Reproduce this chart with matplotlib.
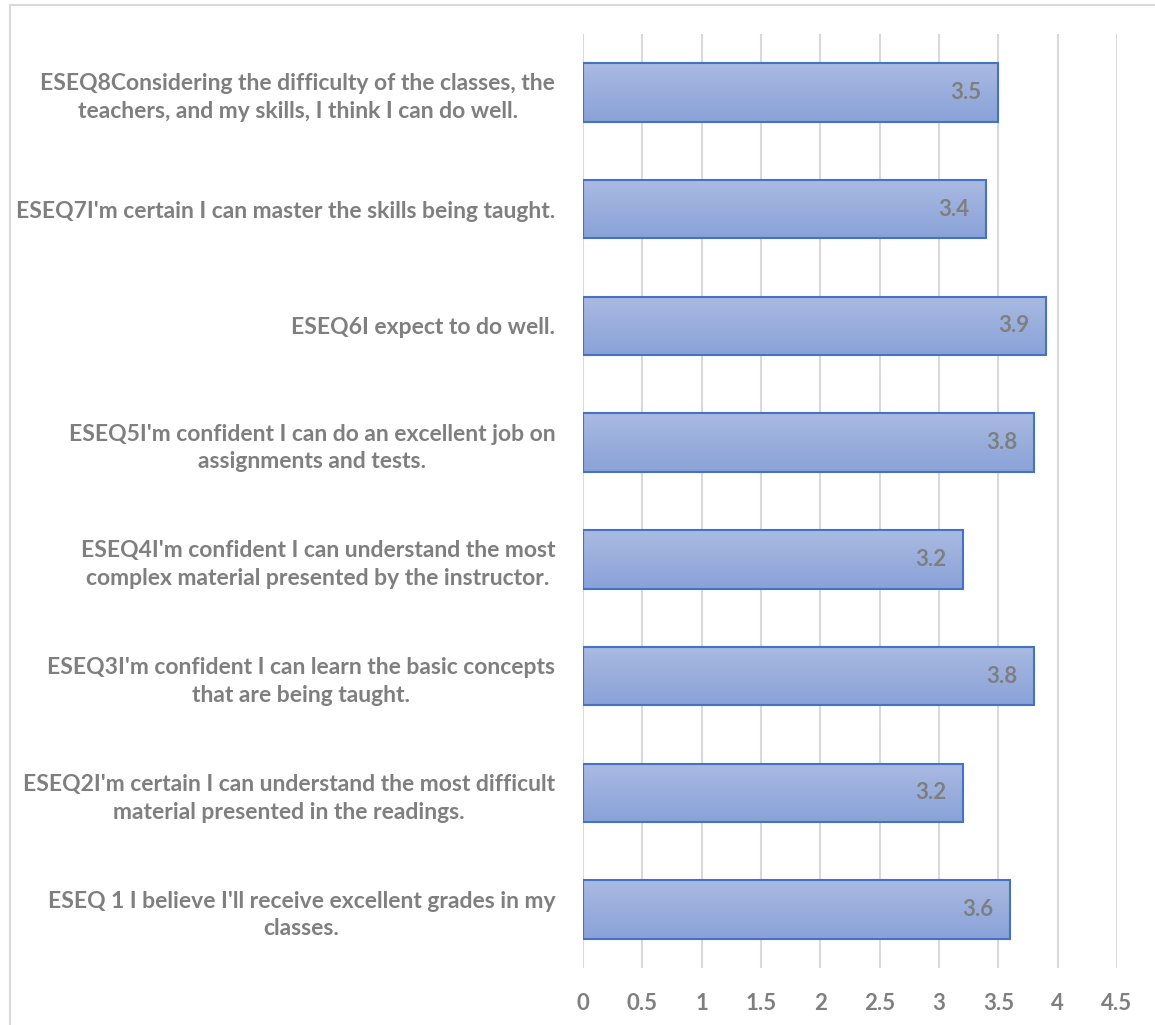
import numpy as np
import matplotlib
matplotlib.use("Agg")
import matplotlib.pyplot as plt
from matplotlib.lines import Line2D

plt.rcParams['font.family'] = ['Lato', 'DejaVu Sans']

# Survey items (bottom to top) and their mean scores
items = [
    "ESEQ 1 I believe I'll receive excellent grades in my\nclasses.",
    "ESEQ2I'm certain I can understand the most difficult\nmaterial presented in the readings.",
    "ESEQ3I'm confident I can learn the basic concepts\nthat are being taught.",
    "ESEQ4I'm confident I can understand the most\ncomplex material presented by the instructor.",
    "ESEQ5I'm confident I can do an excellent job on\nassignments and tests.",
    "ESEQ6I expect to do well.",
    "ESEQ7I'm certain I can master the skills being taught.",
    "ESEQ8Considering the difficulty of the classes, the\nteachers, and my skills, I think I can do well.",
]
scores = [3.6, 3.2, 3.8, 3.2, 3.8, 3.9, 3.4, 3.5]
xticks = [0, 0.5, 1, 1.5, 2, 2.5, 3, 3.5, 4, 4.5]
xtick_labels = ["0", "0.5", "1", "1.5", "2", "2.5", "3", "3.5", "4", "4.5"]

W, H = 1155, 1025
fig = plt.figure(figsize=(W / 100, H / 100), dpi=100)
ax = fig.add_axes([583 / W, 1 - 968 / H, (1117 - 583) / W, (968 - 34) / H])

text_gray = "#7F7F7F"
grid_gray = "#D9D9D9"
edge_blue = "#4472C4"

y = np.arange(len(items))
bars = ax.barh(y, scores, height=0.5, color="none", edgecolor=edge_blue,
               linewidth=1.5, zorder=3)

# vertical gradient fill inside each bar: lighter on top, deeper at the bottom
grad = np.linspace(0, 1, 256).reshape(-1, 1)
top_c = np.array([0xAA, 0xBA, 0xE2]) / 255
bot_c = np.array([0x89, 0xA2, 0xD8]) / 255
img = (top_c[None, None, :] * (1 - grad[..., None]) + bot_c[None, None, :] * grad[..., None])
for b in bars:
    x0, y0 = b.get_x(), b.get_y()
    w, h = b.get_width(), b.get_height()
    im = ax.imshow(img, extent=[x0, x0 + w, y0, y0 + h], aspect="auto",
                   origin="upper", zorder=2, interpolation="bilinear")
    im.set_clip_path(b)

for yi, v in zip(y, scores):
    ax.annotate(f"{v}", xy=(v, yi), xytext=(-12, 0), textcoords="offset points",
                ha="right", va="center", fontsize=16, fontweight="bold",
                color=text_gray, zorder=4)

ax.set_xlim(0, 4.5)
ax.set_ylim(-0.5, len(items) - 0.5)
ax.set_xticks(xticks)
ax.set_xticklabels(xtick_labels)
ax.set_yticks(y)
ax.set_yticklabels(items, ha="right", multialignment="center")
ax.tick_params(axis="x", length=0, pad=18, labelsize=16, labelcolor=text_gray)
ax.tick_params(axis="y", length=0, pad=20, labelsize=16.5, labelcolor=text_gray)
for lab in ax.get_xticklabels() + ax.get_yticklabels():
    lab.set_fontweight("bold")
for lab in ax.get_yticklabels():
    lab.set_linespacing(1.4)

ax.grid(axis="x", color=grid_gray, linewidth=1.5, zorder=0)
ax.set_axisbelow(True)
for s in ax.spines.values():
    s.set_visible(False)

# chart area border (top and left edges)
fig.add_artist(Line2D([10 / W, 10 / W], [0, 1 - 5 / H], color=grid_gray, lw=1.5,
                      transform=fig.transFigure))
fig.add_artist(Line2D([10 / W, 1], [1 - 5 / H, 1 - 5 / H], color=grid_gray, lw=1.5,
                      transform=fig.transFigure))

fig.savefig("out.png", dpi=100, facecolor="white")
